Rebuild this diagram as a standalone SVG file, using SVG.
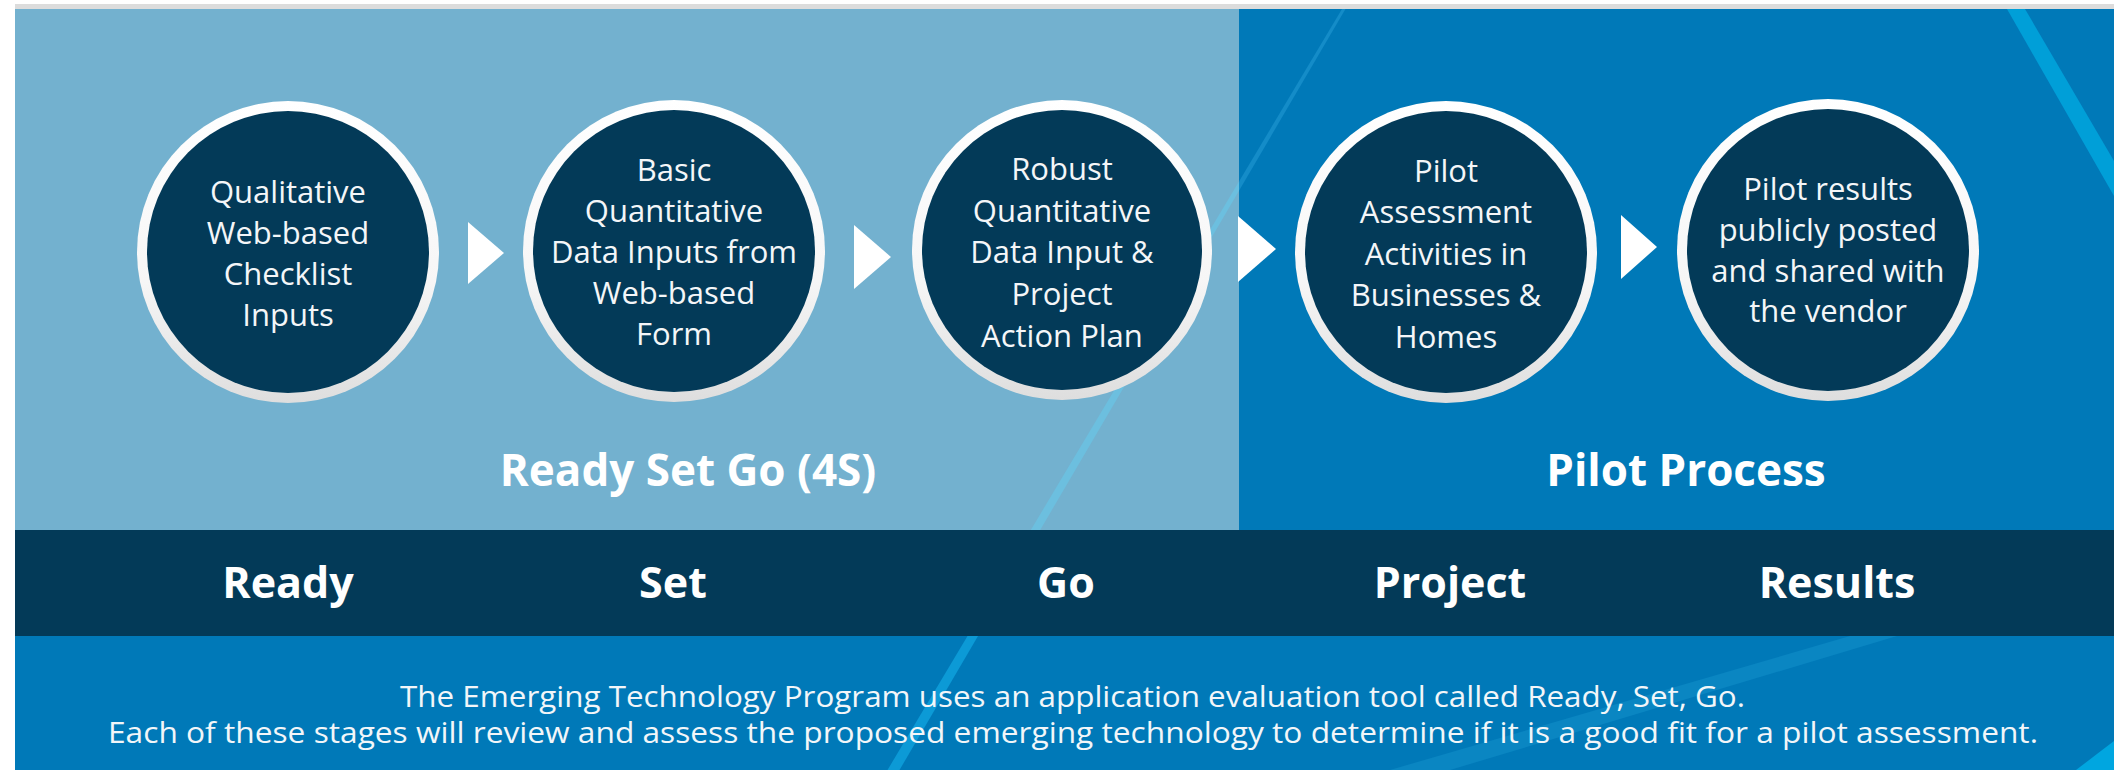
<svg xmlns="http://www.w3.org/2000/svg" width="2114" height="770" viewBox="0 0 2114 770">
<defs>
<style>
.ct{font-family:"Open Sans","Noto Sans",sans-serif;font-size:31px;fill:#f4f6f8;text-anchor:middle}
.hd{font-family:"Open Sans","Noto Sans",sans-serif;font-size:44px;font-weight:700;fill:#ffffff;text-anchor:middle}
.bl{font-family:"Open Sans","Noto Sans",sans-serif;font-size:43px;font-weight:700;fill:#ffffff;text-anchor:middle}
.pt{font-family:"Open Sans","Noto Sans",sans-serif;font-size:29px;fill:#f2f6f9;text-anchor:middle}
.ring{fill:url(#ringGrad)}
.core{fill:#033a58}
.arrow{fill:#ffffff}
</style>
<linearGradient id="ringGrad" x1="0" y1="0" x2="0" y2="1">
<stop offset="0" stop-color="#ffffff"/>
<stop offset="0.6" stop-color="#f6f6f6"/>
<stop offset="1" stop-color="#dedede"/>
</linearGradient>
<clipPath id="cTopLight"><rect x="15" y="9" width="1224" height="521"/></clipPath>
<clipPath id="cTopDark"><rect x="1239" y="9" width="875" height="521"/></clipPath>
<clipPath id="cBottom"><rect x="15" y="636" width="2099" height="134"/></clipPath>
<polygon id="stripe" points="1342,9 1345.5,9 899.5,770 887.5,770"/>
</defs>

<g id="background">
<rect x="15" y="4" width="2099" height="5" fill="#dcdcdc"/>
<rect x="15" y="9" width="1224" height="521" fill="#73b1cf"/>
<rect x="1239" y="9" width="875" height="521" fill="#0079b8"/>
<rect x="15" y="636" width="2099" height="134" fill="#0079b8"/>
<use href="#stripe" fill="#6cbfdf" clip-path="url(#cTopLight)"/>
<use href="#stripe" fill="#148cc8" clip-path="url(#cTopDark)"/>
<use href="#stripe" fill="#0c9ad6" clip-path="url(#cBottom)"/>
<polygon points="2007,9 2025,9 2114,161 2114,196" fill="#009fd8"/>
<polygon points="1850,636 1897,636 1450,770 1390,770" fill="#0a86c2"/>
<polygon points="2076,770 2114,741 2114,770" fill="#00a6e0"/>
<rect x="15" y="530" width="2099" height="106" fill="#033a58"/>
</g>

<g id="connectors">
<polygon class="arrow" points="468,222 504,253 468,284"/>
<polygon class="arrow" points="854,225 891,257 854,289"/>
<polygon class="arrow" points="1238,216 1276,249 1238,282"/>
<polygon class="arrow" points="1621,215 1657,247 1621,279"/>
</g>

<g id="node-ready">
<circle class="ring" cx="288" cy="252" r="151"/>
<circle class="core" cx="288" cy="252" r="141"/>
<text class="ct" x="288" y="203">Qualitative</text>
<text class="ct" x="288" y="244">Web-based</text>
<text class="ct" x="288" y="285">Checklist</text>
<text class="ct" x="288" y="326">Inputs</text>
</g>

<g id="node-set">
<circle class="ring" cx="674" cy="251" r="151"/>
<circle class="core" cx="674" cy="251" r="141"/>
<text class="ct" x="674" y="181">Basic</text>
<text class="ct" x="674" y="222">Quantitative</text>
<text class="ct" x="674" y="263">Data Inputs from</text>
<text class="ct" x="674" y="304">Web-based</text>
<text class="ct" x="674" y="345">Form</text>
</g>

<g id="node-go">
<circle class="ring" cx="1062" cy="250" r="150"/>
<circle class="core" cx="1062" cy="250" r="140"/>
<text class="ct" x="1062" y="180">Robust</text>
<text class="ct" x="1062" y="222">Quantitative</text>
<text class="ct" x="1062" y="263">Data Input &amp;</text>
<text class="ct" x="1062" y="305">Project</text>
<text class="ct" x="1062" y="347">Action Plan</text>
</g>

<g id="node-project">
<circle class="ring" cx="1446" cy="252" r="151"/>
<circle class="core" cx="1446" cy="252" r="141"/>
<text class="ct" x="1446" y="182">Pilot</text>
<text class="ct" x="1446" y="223">Assessment</text>
<text class="ct" x="1446" y="265">Activities in</text>
<text class="ct" x="1446" y="306">Businesses &amp;</text>
<text class="ct" x="1446" y="348">Homes</text>
</g>

<g id="node-results">
<circle class="ring" cx="1828" cy="250" r="151"/>
<circle class="core" cx="1828" cy="250" r="141"/>
<text class="ct" x="1828" y="200">Pilot results</text>
<text class="ct" x="1828" y="241">publicly posted</text>
<text class="ct" x="1828" y="282">and shared with</text>
<text class="ct" x="1828" y="322">the vendor</text>
</g>

<g id="headers">
<text class="hd" x="688" y="486">Ready Set Go (4S)</text>
<text class="hd" x="1686" y="486">Pilot Process</text>
</g>

<g id="band-labels">
<text class="bl" x="288" y="598">Ready</text>
<text class="bl" x="673" y="598">Set</text>
<text class="bl" x="1066" y="598">Go</text>
<text class="bl" x="1450" y="598">Project</text>
<text class="bl" x="1837" y="598">Results</text>
</g>

<g id="caption">
<text class="pt" x="1072.5" y="707" textLength="1345" lengthAdjust="spacingAndGlyphs">The Emerging Technology Program uses an application evaluation tool called Ready, Set, Go.</text>
<text class="pt" x="1073" y="743" textLength="1930" lengthAdjust="spacingAndGlyphs">Each of these stages will review and assess the proposed emerging technology to determine if it is a good fit for a pilot assessment.</text>
</g>
</svg>
